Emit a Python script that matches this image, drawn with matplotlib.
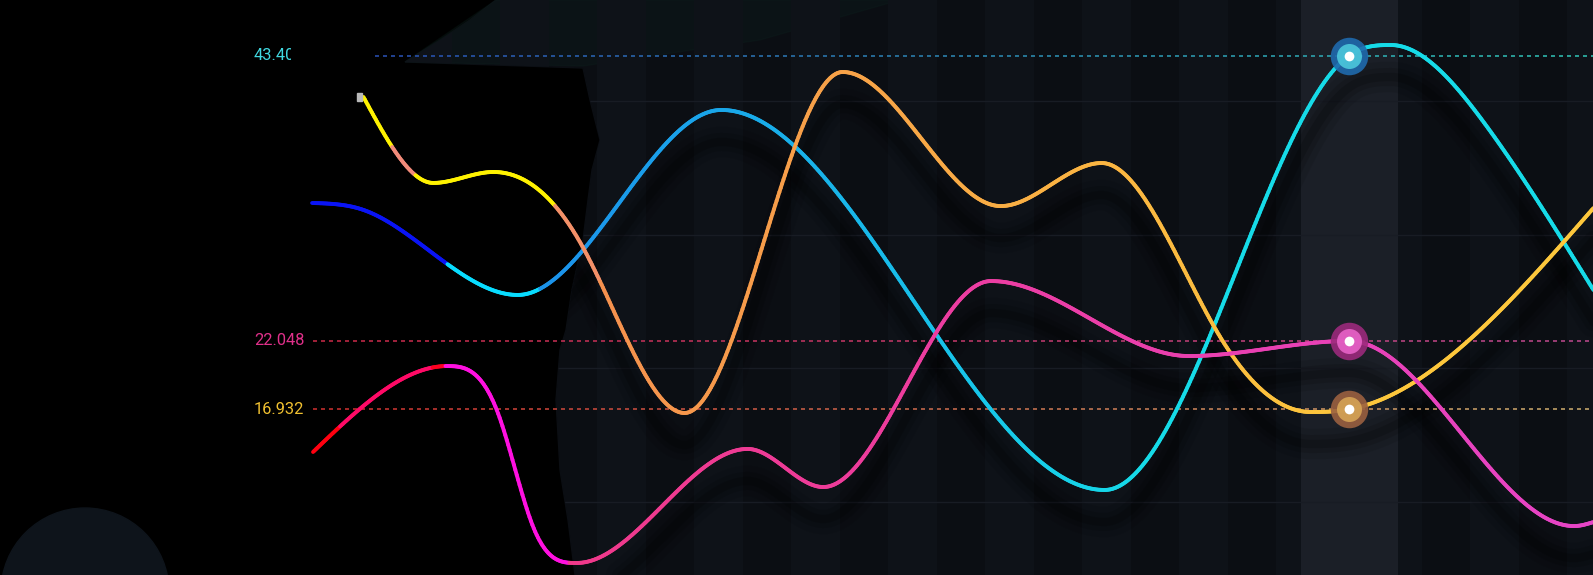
import numpy as np
import matplotlib
matplotlib.use("Agg")
import matplotlib.pyplot as plt
from matplotlib.collections import LineCollection
from matplotlib.patches import Polygon, Circle, Rectangle
from matplotlib.transforms import IdentityTransform, Bbox
from matplotlib.colors import to_rgba

W, H = 1593, 575

# category index -> pixel: 573 + 97 * i   (value axis: 40 at y=101, 10 at y=502)
orange_x = [-2.16, -1.44, -0.82, 0.10, 1.15, 2.78, 4.41, 5.45, 6.66, 7.61, 8.00, 10.52]
orange_y = [40.30, 33.87, 34.69, 29.08, 16.66, 42.17, 32.14, 35.36, 22.49, 16.73, 16.932, 31.99]

cyan_x = [-2.69, -2.16, -0.57, 1.53, 5.48, 8.00, 8.43, 9.38, 10.52]
cyan_y = [32.37, 31.85, 25.49, 39.33, 10.90, 43.40, 44.19, 38.50, 25.86]

pink_x = [-2.68, -1.99, -1.30, -0.77, -0.41, 0.04, 1.80, 2.58, 4.31, 6.35, 8.00, 10.32, 10.52]
pink_y = [13.74, 18.15, 20.17, 16.58, 8.13, 5.44, 13.97, 11.12, 26.53, 20.92, 22.048, 8.20, 8.50]

highlight_i = 8
marker_values = [43.40, 22.048, 16.932]
marker_labels = ["43.40", "22.048", "16.932"]
grid_values = [10, 20, 30, 40]

X0, XS = 573, 97
Y40, PPU = 101, 1 / 0.074813


def val_at(py):
    return 40 - (py - Y40) / PPU


def smooth(x, y, num=900):
    # C2 cubic spline, held flat at every turning point
    x = np.asarray(x, float)
    y = np.asarray(y, float)
    h = np.diff(x)
    d = np.diff(y) / h
    n = len(x)
    A = np.zeros((n, n))
    b = np.zeros(n)
    A[0, 0], A[0, 1], b[0] = 2, 1, 3 * d[0]
    A[-1, -2], A[-1, -1], b[-1] = 1, 2, 3 * d[-1]
    for k in range(1, n - 1):
        if d[k - 1] * d[k] <= 0:
            A[k, k] = 1
        else:
            A[k, k - 1] = h[k]
            A[k, k] = 2 * (h[k - 1] + h[k])
            A[k, k + 1] = h[k - 1]
            b[k] = 3 * (h[k] * d[k - 1] + h[k - 1] * d[k])
    m = np.linalg.solve(A, b)
    xs = np.linspace(x[0], x[-1], num)
    k = np.clip(np.searchsorted(x, xs) - 1, 0, n - 2)
    t = (xs - x[k]) / h[k]
    ys = ((2 * t**3 - 3 * t**2 + 1) * y[k] + (t**3 - 2 * t**2 + t) * h[k] * m[k]
          + (-2 * t**3 + 3 * t**2) * y[k + 1] + (t**3 - t**2) * h[k] * m[k + 1])
    return xs, ys


def grad(px, x0, x1, c0, c1):
    t = np.clip((px - x0) / (x1 - x0), 0, 1)[:, None]
    return (1 - t) * np.array(to_rgba(c0)) + t * np.array(to_rgba(c1))


def bands(px, cols, spans):
    for a, b, c in spans:
        cols[(px >= a) & (px < b)] = to_rgba(c)
    return cols


def orange_cols(px):
    c = grad(px, 600, 1350, "#f5914e", "#fdc73c")
    return bands(px, c, [(0, 392, "#fff200"), (392, 415, "#f28b7a"),
                         (415, 555, "#fff200"), (555, 600, "#f39068")])


def cyan_cols(px):
    c = grad(px, 560, 1150, "#1b93ea", "#16dbe8")
    return bands(px, c, [(0, 447, "#0a14f5"), (447, 540, "#08dcff")])


def pink_cols(px):
    c = grad(px, 570, 1593, "#f0398a", "#e644c6")
    return bands(px, c, [(0, 340, "#ff0010"), (340, 432, "#ff0a66"),
                         (432, 446, "#ff0020"), (446, 570, "#ff10e0")])


def colored_line(ax, xs, ys, fn, lw, z):
    pts = np.column_stack([xs, ys]).reshape(-1, 1, 2)
    segs = np.concatenate([pts[:-1], pts[1:]], axis=1)
    mids = (xs[:-1] + xs[1:]) / 2
    lc = LineCollection(segs, colors=fn(X0 + XS * mids), linewidths=lw,
                        capstyle="round", zorder=z)
    ax.add_collection(lc)


def pix(pts):
    return [(x, H - y) for x, y in pts]


fig = plt.figure(figsize=(W / 100, H / 100), dpi=100, facecolor="black")
ax = fig.add_axes([0, 0, 1, 1])
ax.set_facecolor("none")
ax.set_xlim(-X0 / XS, (W - X0) / XS)
ax.set_ylim(val_at(H), val_at(0))
ax.axis("off")

# bottom-left disc
ax.add_patch(Circle((85, H - 592), 84, transform=IdentityTransform(),
                    color="#0e141b", zorder=0))

# dark panel with ragged left edge
panel = Polygon(pix([(496, 0), (470, 20), (440, 40), (405, 62), (583, 68), (590, 100),
                     (600, 140), (592, 170), (588, 200), (583, 240), (572, 290),
                     (566, 330), (560, 350), (556, 400), (560, 470), (568, 520),
                     (575, 575), (W, H), (W, 0)]),
                closed=True, transform=IdentityTransform(), color="#0b0e13", zorder=1)
ax.add_patch(panel)
tint = Polygon(pix([(496, 0), (405, 62), (583, 66), (760, 40), (900, 0)]), closed=True,
               transform=IdentityTransform(), color="#0e2420", alpha=0.25, zorder=1.2)
ax.add_patch(tint)

for i in range(-6, 11):
    s = ax.axvspan(i + 0.25, i + 0.75, color="#0e1218", lw=0, zorder=1.5)
    s.set_clip_path(panel)
hl = ax.axvspan(highlight_i - 0.5, highlight_i + 0.5, color="#1b1f27", lw=0, zorder=1.6)
hl.set_clip_path(panel)

for v in grid_values:
    g = ax.axhline(v, color="#181c24", lw=1, zorder=2)
    g.set_clip_path(panel)

series = [(cyan_x, cyan_y, cyan_cols), (orange_x, orange_y, orange_cols),
          (pink_x, pink_y, pink_cols)]
curves = [smooth(x, y) for x, y, _ in series]

# soft shadows under curves
off = 32 / PPU
for xs, ys in curves:
    for lw, a in [(22, 0.08), (13, 0.12), (6, 0.16)]:
        sh, = ax.plot(xs, ys - off, color="black", lw=lw, alpha=a,
                      solid_capstyle="round", zorder=3)
        sh.set_clip_path(panel)

# dashed reference lines
dash_specs = [(43.40, 375, "#2a52b8", "#30c8b8"),
              (22.048, 313, "#cc2a48", "#c04a90"),
              (16.932, 313, "#d03030", "#d0b070")]
for v, start, c0, c1 in dash_specs:
    starts = np.arange(start, W, 8.0)
    segs = [[((s - X0) / XS, v), ((min(s + 4, W) - X0) / XS, v)] for s in starts]
    cols = grad(starts, start, W, c0, c1)
    ax.add_collection(LineCollection(segs, colors=cols, linewidths=1.1, zorder=4))

for (xs, ys), (_, _, fn) in zip(curves, series):
    colored_line(ax, xs, ys, fn, 2.8, 5)

ax.add_patch(Rectangle((357, H - 101), 5, 8, transform=IdentityTransform(),
                       color="#b8b8b8", zorder=5.5))

marker_cols = [("#1f6aae", "#4cc8dc"), ("#9c2a7c", "#e862c8"), ("#9a6040", "#d6a456")]
for v, (outer, inner) in zip(marker_values, marker_cols):
    ax.plot(highlight_i, v, "o", ms=27, color=outer, mec="none", alpha=0.9, zorder=6)
    ax.plot(highlight_i, v, "o", ms=18, color=inner, mec="none", alpha=0.9, zorder=6.1)
    ax.plot(highlight_i, v, "o", ms=7, color="white", mec="none", zorder=6.2)

label_cols = ["#40d8e0", "#e0308a", "#f0c030"]
for v, s, c in zip(marker_values, marker_labels, label_cols):
    t = ax.text((254 - X0) / XS, v, s, color=c, fontsize=11.8, family="Roboto",
                ha="left", va="center", zorder=7)
    if s == "43.40":
        t.set_clip_on(True)
        t.set_clip_box(Bbox([[0, 0], [291, H]]))

fig.savefig("out.png", dpi=100, facecolor="black")
